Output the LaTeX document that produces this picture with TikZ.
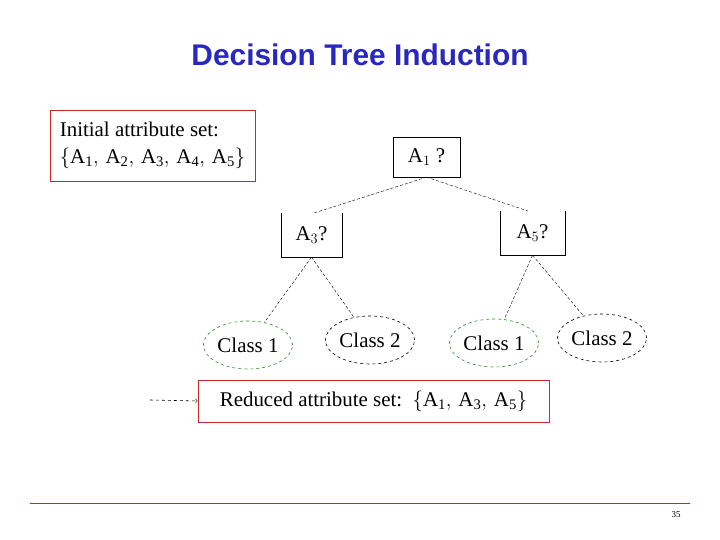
\documentclass[tikz,border=0pt]{standalone}
\usepackage{fontspec}
\setmainfont{Liberation Serif}
\newfontfamily\titlefont{Liberation Sans}
\usetikzlibrary{positioning,shapes.geometric}
\definecolor{titleblue}{RGB}{40,40,190}
\definecolor{boxred}{RGB}{204,40,40}
\definecolor{classgreen}{RGB}{40,140,40}
\tikzset{
  attrbox/.style={draw=boxred, thick, align=left, font=\fontsize{21}{27}\selectfont, inner sep=5pt},
  testbox/.style={draw, thin, minimum height=40bp, font=\fontsize{21}{24}\selectfont},
  openbox/.style={minimum height=44bp, font=\fontsize{21}{24}\selectfont},
  leaf/.style={ellipse, dashed, semithick, minimum width=88bp, minimum height=48bp, inner sep=1pt, font=\fontsize{21}{24}\selectfont},
  branch/.style={thin, densely dashed}
}
\begin{document}
\begin{tikzpicture}[x=1bp, y=-1bp]
  \useasboundingbox (0,0) rectangle (720,540);
  \node[font=\titlefont\bfseries\fontsize{30}{34}\selectfont, text=titleblue] (title) at (360,55) {Decision Tree Induction};
  \node[attrbox, minimum width=205bp, minimum height=71bp] (init) at (152.5,145.5)
    {Initial attribute set:\\ $\{\mathrm{A_1,\,A_2,\,A_3,\,A_4,\,A_5}\}$};
  \node[testbox, minimum width=67bp] (a1) at (426.5,157) {A$_1$ ?};
  \node[openbox, minimum width=61bp] (a3) at (311.5,235) {A$_3$?};
  \node[openbox, minimum width=65bp] (a5) at (532.5,233) {A$_5$?};
  \draw[thin] (a3.north west) -- (a3.south west) -- (a3.south east) -- (a3.north east);
  \draw[thin] (a5.north west) -- (a5.south west) -- (a5.south east) -- (a5.north east);
  \node[leaf, draw=classgreen] (c1) at (248,345) {Class 1};
  \node[leaf, draw=black] (c2) at (370,340) {Class 2};
  \node[leaf, draw=classgreen] (c3) at (494,343) {Class 1};
  \node[leaf, draw=black] (c4) at (602,338) {Class 2};
  \node[attrbox, minimum width=351bp, minimum height=42bp] (reduced) at (373.5,401)
    {Reduced attribute set: \,$\{\mathrm{A_1,\,A_3,\,A_5}\}$};
  \coordinate (tail) at (150,400);
  % tree branches
  \draw[branch] (a1.south) -- (314,213);
  \draw[branch] (a1.south) -- (528,211);
  \draw[branch] (a3.south) -- (c1);
  \draw[branch] (a3.south) -- (c2);
  \draw[branch] (a5.south) -- (c3);
  \draw[branch] (a5.south) -- (c4);
  \draw[semithick, dashed, -to] (tail) -- (reduced.west);
  % footer
  \draw[boxred, thick] (30,503) -- (690,503);
  \node[font=\fontsize{9}{10}\selectfont] (page) at (676,515) {35};
\end{tikzpicture}
\end{document}
